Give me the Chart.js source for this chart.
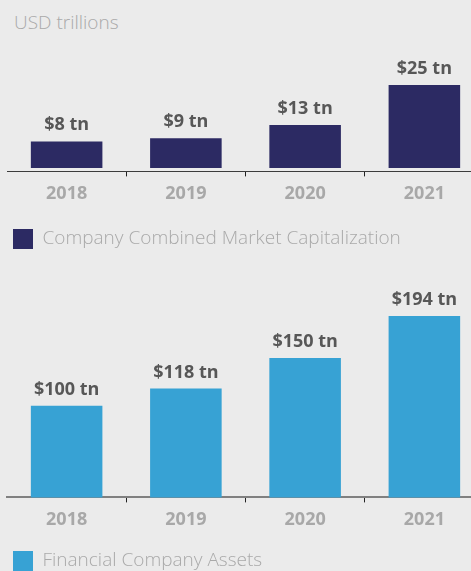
<!DOCTYPE html>
<html>
<head>
<meta charset="utf-8">
<script src="https://cdn.jsdelivr.net/npm/chart.js@4"></script>
<style>
  body { margin: 0; background: #ebebeb; }
  #wrap { position: relative; width: 471px; height: 571px; overflow: hidden; }
  .box { position: absolute; left: 0; width: 490px; }
  #caption {
    position: absolute; left: 14px; top: 9px;
    font: 300 19px "Open Sans"; color: #a9a9a9;
  }
</style>
</head>
<body>
<div id="wrap">
  <div id="caption">USD trillions</div>
  <div class="box" style="top:0;height:259px"><canvas id="capChart"></canvas></div>
  <div class="box" style="top:262px;height:319px"><canvas id="assetChart"></canvas></div>
</div>
<script>
// data
const years = ["2018", "2019", "2020", "2021"];
const marketCap = [8, 9, 13, 25];
const financialAssets = [100, 118, 150, 194];

// "$8 tn" labels above each bar
const valueLabels = {
  id: "valueLabels",
  afterDatasetsDraw(chart) {
    const ctx = chart.ctx;
    const ds = chart.data.datasets[0];
    ctx.save();
    ctx.font = "bold 18px 'Open Sans'";
    ctx.fillStyle = "#575757";
    ctx.textAlign = "center";
    ctx.textBaseline = "alphabetic";
    chart.getDatasetMeta(0).data.forEach((bar, i) => {
      ctx.fillText("$" + ds.data[i] + " tn", bar.x, bar.y - 11);
    });
    ctx.restore();
  },
};

function makeOptions(yMin, yMax, padTop, axisColor, axisWidth, tickPad, gapBelow) {
  return {
    responsive: true,
    maintainAspectRatio: false,
    animation: false,
    layout: { padding: { top: padTop, left: 7, right: 6, bottom: 0 } },
    plugins: {
      legend: {
        display: true,
        position: "bottom",
        align: "start",
        labels: {
          boxWidth: 20,
          boxHeight: 20,
          padding: 6,
          color: "#a9a9a9",
          font: { family: "'Open Sans'", size: 19, weight: 300 },
        },
      },
      tooltip: { enabled: false },
    },
    scales: {
      x: {
        offset: true,
        border: { display: true, color: axisColor, width: axisWidth },
        grid: {
          offset: true,
          drawOnChartArea: false,
          drawTicks: true,
          tickLength: 5,
          tickColor: (c) => (c.index === 0 || c.index === years.length ? "transparent" : "#222"),
        },
        ticks: {
          padding: tickPad,
          color: "#a8a8a8",
          font: { family: "'Open Sans'", size: 18, weight: "bold" },
        },
        afterFit(scale) {
          scale.height += gapBelow; // room between the years and the legend
        },
      },
      y: { display: false, min: yMin, max: yMax },
    },
  };
}

new Chart(document.getElementById("capChart"), {
  type: "bar",
  data: {
    labels: years,
    datasets: [{
      label: "Company Combined Market Capitalization",
      data: marketCap,
      backgroundColor: "#2c2a63",
      categoryPercentage: 1,
      barPercentage: 0.6,
    }],
  },
  options: makeOptions(-1, 25, 85, "#3c3c3c", 1, 7, 11),
  plugins: [valueLabels],
});

new Chart(document.getElementById("assetChart"), {
  type: "bar",
  data: {
    labels: years,
    datasets: [{
      label: "Financial Company Assets",
      data: financialAssets,
      backgroundColor: "#37a2d4",
      categoryPercentage: 1,
      barPercentage: 0.6,
    }],
  },
  options: makeOptions(4, 194, 54, "#808080", 2, 7, 7),
  plugins: [valueLabels],
});
</script>
</body>
</html>
